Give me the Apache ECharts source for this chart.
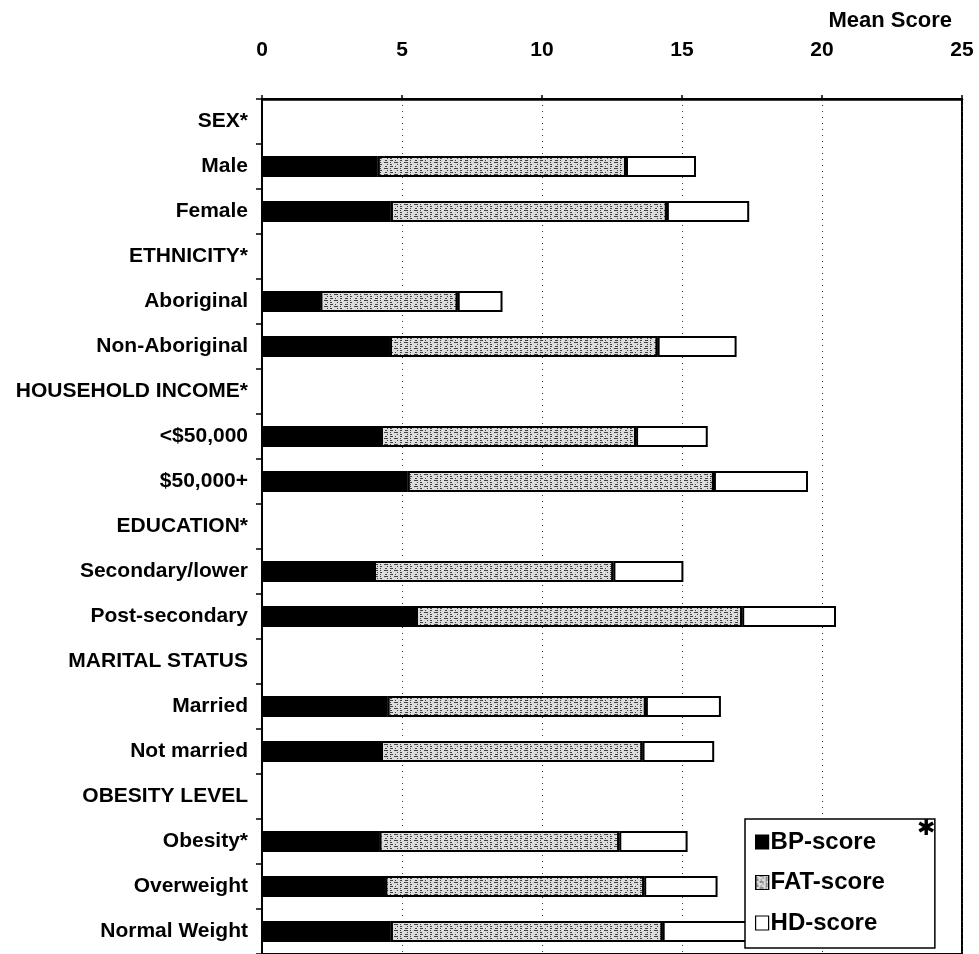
<!DOCTYPE html>
<html>
<head>
<meta charset="utf-8">
<script src="https://cdn.jsdelivr.net/npm/echarts@6/dist/echarts.min.js"></script>
<style>
  html, body { margin: 0; padding: 0; background: #fff; }
  #chart { width: 979px; height: 954px; }
</style>
</head>
<body>
<div id="chart"></div>
<script>
// Row labels, top to bottom (group headings have no bars)
const categories = ['SEX*', 'Male', 'Female', 'ETHNICITY*', 'Aboriginal', 'Non-Aboriginal',
  'HOUSEHOLD INCOME*', '<$50,000', '$50,000+', 'EDUCATION*', 'Secondary/lower', 'Post-secondary',
  'MARITAL STATUS', 'Married', 'Not married', 'OBESITY LEVEL', 'Obesity*', 'Overweight', 'Normal Weight'];

// Mean component scores (stacked left to right)
const bpScore  = [null, 4.13, 4.60, null, 2.08, 4.57, null, 4.25, 5.20, null, 4.00, 5.50, null, 4.48, 4.25, null, 4.19, 4.40, 4.60];
const fatScore = [null, 8.87, 9.86, null, 4.91, 9.56, null, 9.11, 10.94, null, 8.55, 11.65, null, 9.23, 9.34, null, 8.57, 9.25, 9.71];
const hdScore  = [null, 2.50, 2.94, null, 1.60, 2.82, null, 2.56, 3.36, null, 2.50, 3.35, null, 2.68, 2.56, null, 2.44, 2.62, 3.10];

const xTicks = { min: 0, max: 25, step: 5 };

const FONT = '"Liberation Sans", Arial, sans-serif';
const chart = echarts.init(document.getElementById('chart'), null, { renderer: 'canvas' });

const barBorder = { borderColor: '#000', borderWidth: 2 };

chart.setOption({
  backgroundColor: '#fff',
  animation: false,
  title: {
    text: 'Mean Score',
    right: 22,
    top: 5,
    textStyle: { fontFamily: FONT, fontWeight: 'bold', fontSize: 22, color: '#000' }
  },
  grid: {
    left: 262, top: 99, width: 700, height: 863,
    show: true, borderColor: '#000', borderWidth: 2, backgroundColor: 'transparent'
  },
  legend: {
    data: ['BP-score', 'FAT-score', 'HD-score'],
    orient: 'vertical',
    left: 745, top: 819,
    padding: [11, 50, 13, 10],
    itemGap: 16.5,
    itemWidth: 13, itemHeight: 14,
    icon: 'rect',
    itemStyle: { borderWidth: 1.2, borderColor: '#000' },
    backgroundColor: '#fff',
    borderColor: '#000', borderWidth: 1.5,
    textStyle: { fontFamily: FONT, fontWeight: 'bold', fontSize: 24, lineHeight: 24, color: '#000', padding: [0, 0, 0, -3] }
  },
  xAxis: {
    type: 'value',
    position: 'top',
    min: xTicks.min, max: xTicks.max, interval: xTicks.step,
    axisLine: { show: true, lineStyle: { color: '#000', width: 2.5 } },
    axisTick: { show: true, length: 4, lineStyle: { color: '#000', width: 1.5 } },
    axisLabel: { margin: 38, fontFamily: FONT, fontWeight: 'bold', fontSize: 21, color: '#000' },
    splitLine: { show: true, lineStyle: { color: '#333', width: 1, type: [1, 5] } }
  },
  yAxis: {
    type: 'category',
    inverse: true,
    data: categories,
    axisLine: { show: true, lineStyle: { color: '#000', width: 2 } },
    axisTick: { show: true, length: 6, lineStyle: { color: '#000', width: 1.5 } },
    axisLabel: { margin: 14, fontFamily: FONT, fontWeight: 'bold', fontSize: 21, color: '#000' }
  },
  series: [
    {
      name: 'BP-score', type: 'bar', stack: 'score', barWidth: 21,
      itemStyle: Object.assign({ color: '#000' }, barBorder),
      data: bpScore
    },
    {
      name: 'FAT-score', type: 'bar', stack: 'score', barWidth: 21,
      itemStyle: Object.assign({
        color: '#dcdcdc',
        decal: {
          symbol: 'rect', symbolSize: 1,
          color: 'rgba(0,0,0,0.7)',
          dashArrayX: [[3, 2, 1, 4, 2, 3], [1, 3, 4, 2], [2, 5, 1, 2]],
          dashArrayY: [1, 1],
          rotation: 0
        }
      }, barBorder),
      data: fatScore
    },
    {
      name: 'HD-score', type: 'bar', stack: 'score', barWidth: 21,
      itemStyle: Object.assign({ color: '#fff' }, barBorder),
      data: hdScore
    }
  ],
  graphic: [{
    type: 'text', left: 917, top: 818, z: 100,
    style: { text: '✱', fontFamily: '"DejaVu Sans", sans-serif', fontSize: 22, fontWeight: 'bold', fill: '#000' }
  }]
});
</script>
</body>
</html>
